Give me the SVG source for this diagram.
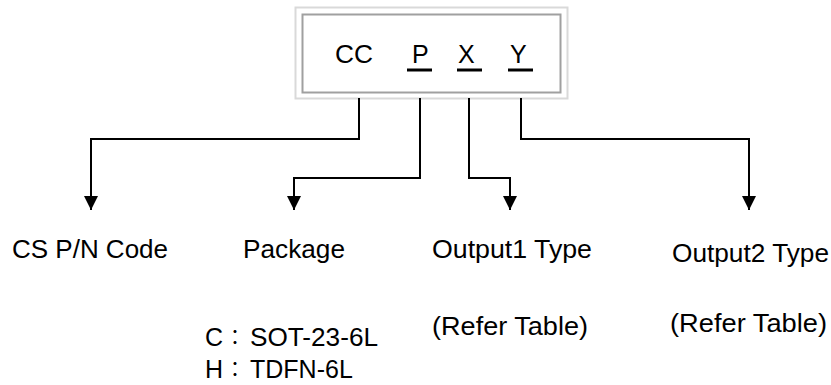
<svg xmlns="http://www.w3.org/2000/svg" width="831" height="385" viewBox="0 0 831 385">
  <style>
    .t { font-family: "Liberation Sans", Arial, sans-serif; font-size: 25px; fill: #000; }
    .cj { font-family: "Noto Sans CJK JP", "Noto Sans CJK SC", sans-serif; font-size: 20px; fill: #000; }
    .conn { fill: none; stroke: #000; stroke-width: 2; }
    .ul { stroke: #000; stroke-width: 3; }
  </style>
  <defs>
    <marker id="arrow" markerUnits="userSpaceOnUse" markerWidth="16" markerHeight="16" viewBox="0 0 16 16" refX="14" refY="8" orient="auto">
      <path d="M0,1 L14,8 L0,15 Z" fill="#000"/>
    </marker>
  </defs>
  <rect width="831" height="385" fill="#fff"/>

  <g id="code-box">
    <rect x="295.5" y="7.5" width="272" height="91" fill="#fff" stroke="#d9d9d9" stroke-width="2"/>
    <rect x="302.5" y="14.5" width="258" height="78" fill="#fff" stroke="#a0a0a0" stroke-width="2"/>
    <text class="t" x="335" y="63" textLength="38" lengthAdjust="spacingAndGlyphs">CC</text>
    <text class="t" x="412" y="63">P</text>
    <text class="t" x="458" y="63">X</text>
    <text class="t" x="510" y="63">Y</text>
    <line class="ul" x1="407" y1="70" x2="432" y2="70"/>
    <line class="ul" x1="457" y1="70" x2="482" y2="70"/>
    <line class="ul" x1="508" y1="70" x2="533" y2="70"/>
  </g>

  <g id="connectors">
    <path class="conn" d="M359,98 V139 H91 V210" marker-end="url(#arrow)"/>
    <path class="conn" d="M420,98 V178 H294 V210" marker-end="url(#arrow)"/>
    <path class="conn" d="M469,98 V178 H510 V210" marker-end="url(#arrow)"/>
    <path class="conn" d="M521,98 V139 H749 V210" marker-end="url(#arrow)"/>
  </g>

  <g id="node-cs-pn-code">
    <text class="t" x="12" y="258" textLength="156" lengthAdjust="spacingAndGlyphs">CS P/N Code</text>
  </g>

  <g id="node-package">
    <text class="t" x="243" y="258" textLength="102" lengthAdjust="spacingAndGlyphs">Package</text>
    <text class="t" x="205" y="346">C</text>
    <text class="cj" x="235" y="345" text-anchor="middle">：</text>
    <text class="t" x="250" y="346" textLength="128" lengthAdjust="spacingAndGlyphs">SOT-23-6L</text>
    <text class="t" x="205" y="378">H</text>
    <text class="cj" x="235" y="377" text-anchor="middle">：</text>
    <text class="t" x="250" y="378">TDFN-6L</text>
  </g>

  <g id="node-output1">
    <text class="t" x="432" y="258" textLength="160" lengthAdjust="spacingAndGlyphs">Output1 Type</text>
    <text class="t" x="432" y="335" textLength="156" lengthAdjust="spacingAndGlyphs">(Refer Table)</text>
  </g>

  <g id="node-output2">
    <text class="t" x="672" y="262" textLength="157" lengthAdjust="spacingAndGlyphs">Output2 Type</text>
    <text class="t" x="670" y="332" textLength="157" lengthAdjust="spacingAndGlyphs">(Refer Table)</text>
  </g>
</svg>
